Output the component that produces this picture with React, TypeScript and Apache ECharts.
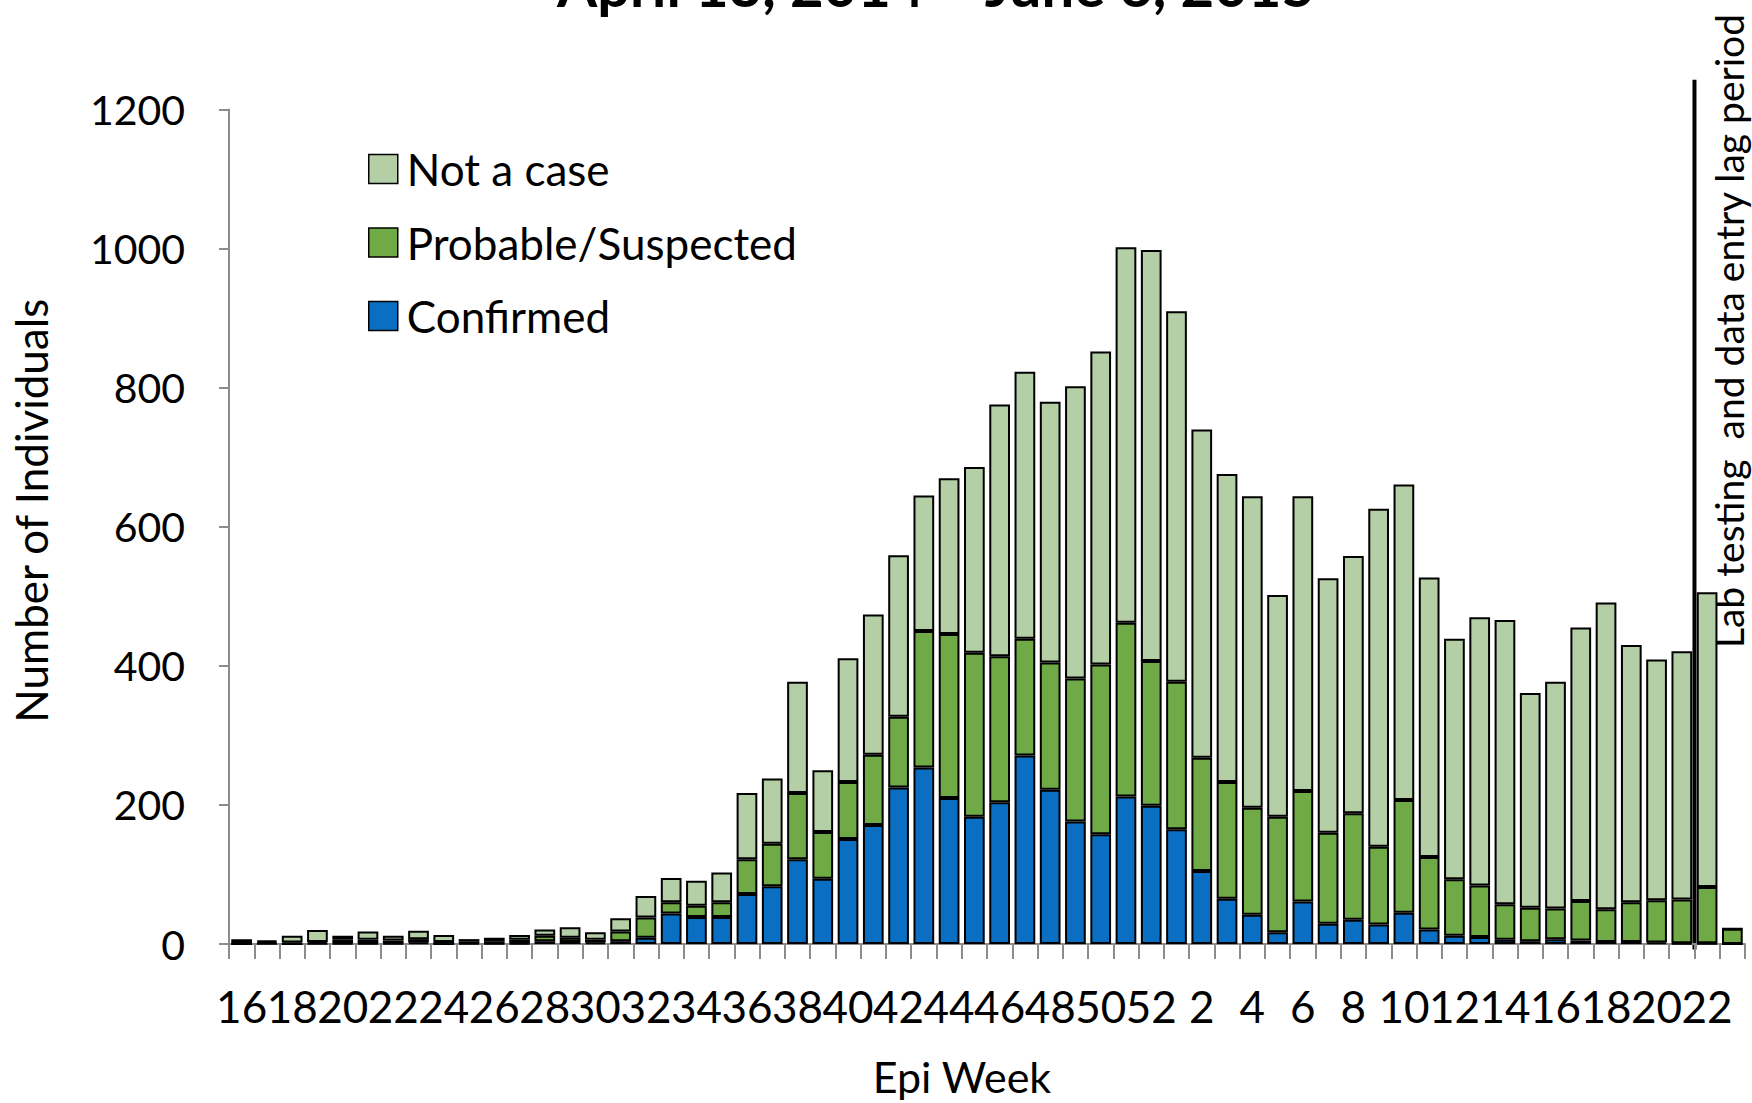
import React, { useEffect, useRef } from "react";
import * as echarts from "echarts";

// Epi weeks: 16..52 (2014) then 1..23 (2015)
const weeks: string[] = [
  "16","17","18","19","20","21","22","23","24","25","26","27","28","29","30","31","32","33","34","35",
  "36","37","38","39","40","41","42","43","44","45","46","47","48","49","50","51","52",
  "1","2","3","4","5","6","7","8","9","10","11","12","13","14","15","16","17","18","19","20","21","22","23",
];

const confirmed: number[] = [
  0, 1, 0, 1, 1, 1, 1, 2, 0, 1, 1, 1, 4, 3, 2, 4, 9, 44, 39, 39,
  72, 83, 122, 94, 151, 171, 225, 254, 210, 183, 204, 271, 222, 176, 158, 212, 199,
  165, 105, 65, 42, 17, 61, 29, 35, 28, 45, 21, 12, 10, 6, 4, 7, 5, 3, 3, 2, 1, 1, 0,
];

const probable: number[] = [
  1, 2, 2, 2, 5, 5, 4, 5, 3, 3, 3, 5, 8, 6, 4, 14, 29, 16, 16, 21,
  50, 61, 95, 67, 82, 101, 102, 196, 236, 236, 210, 168, 183, 206, 244, 250, 208,
  212, 163, 168, 154, 166, 159, 131, 153, 112, 162, 104, 81, 74, 51, 48, 44, 57, 47, 57, 61, 63, 81, 22,
];

const notCase: number[] = [
  6, 2, 10, 17, 6, 12, 7, 12, 10, 3, 5, 7, 9, 15, 11, 19, 31, 35, 36, 43,
  95, 94, 160, 89, 178, 202, 232, 195, 224, 267, 362, 384, 375, 420, 450, 540, 591,
  533, 472, 443, 448, 319, 424, 366, 370, 486, 454, 402, 346, 386, 409, 309, 326, 393, 441, 370, 346, 357, 424, 0,
];

const seriesNames = ["Confirmed", "Probable/Suspected", "Not a case"];
const seriesColors = ["#0A6FC2", "#6FAA46", "#B4CFA5"];
const legendOrder = ["Not a case", "Probable/Suspected", "Confirmed"];
const yTicks = { min: 0, max: 1200, interval: 200 };
const titleText = "April 13, 2014 \u2013 June 6, 2015";
const lagText = "Lab testing  and data entry lag period";
const lagStartIndex = 58; // first week inside the lag period (2015 week 22)

const FONT = "Lato, 'Open Sans', sans-serif";

export default function App() {
  const ref = useRef<HTMLDivElement>(null);

  useEffect(() => {
    if (!ref.current) return;
    const chart = echarts.init(ref.current, undefined, { renderer: "svg" });
    const dataSets = [confirmed, probable, notCase];

    chart.setOption({
      animation: false,
      backgroundColor: "#ffffff",
      textStyle: { fontFamily: FONT, color: "#000" },
      grid: { left: 229, right: 7, top: 109.6, bottom: 153, containLabel: false },
      legend: {
        data: legendOrder,
        orient: "vertical",
        left: 368,
        top: 147,
        padding: 0,
        itemWidth: 29,
        itemHeight: 29,
        itemGap: 29.5,
        icon: "rect",
        itemStyle: { borderColor: "#000", borderWidth: 1.5 },
        textStyle: { fontSize: 44, fontFamily: FONT, color: "#000", padding: [0, 0, 0, 4], lineHeight: 29 },
      },
      xAxis: {
        type: "category",
        data: weeks,
        name: "Epi Week",
        nameLocation: "middle",
        nameGap: 111,
        nameTextStyle: { fontSize: 43, fontFamily: FONT, color: "#000", padding: [0, 50, 0, 0] },
        axisLine: { show: true, lineStyle: { color: "#8c8c8c", width: 2 } },
        axisTick: { show: true, interval: 0, length: 15, lineStyle: { color: "#8c8c8c", width: 2 } },
        axisLabel: {
          interval: 0,
          showMinLabel: true,
          showMaxLabel: true,
          hideOverlap: false,
          formatter: (value: string, index: number) => (index % 2 === 0 ? value : ""),
          fontSize: 44,
          margin: 40,
          color: "#000",
          fontFamily: FONT,
        },
        splitLine: { show: false },
      },
      yAxis: {
        type: "value",
        min: yTicks.min,
        max: yTicks.max,
        interval: yTicks.interval,
        name: "Number of Individuals",
        nameLocation: "middle",
        nameRotate: 90,
        nameGap: 176,
        nameTextStyle: { fontSize: 44, fontFamily: FONT, color: "#000", padding: [0, 0, 0, 32] },
        axisLine: { show: true, lineStyle: { color: "#8c8c8c", width: 2 } },
        axisTick: { show: true, length: 10, lineStyle: { color: "#8c8c8c", width: 2 } },
        axisLabel: {
          fontSize: 41,
          margin: 44,
          color: "#000",
          fontFamily: FONT,
          formatter: (v: number) => String(v),
        },
        splitLine: { show: false },
      },
      series: seriesNames.map((name, i) => ({
        name,
        type: "bar",
        stack: "total",
        barCategoryGap: "18%",
        data: dataSets[i],
        itemStyle: { color: seriesColors[i], borderColor: "#000", borderWidth: 2 },
      })),
    });

    const xa = chart.convertToPixel({ xAxisIndex: 0 }, lagStartIndex - 1) as number;
    const xb = chart.convertToPixel({ xAxisIndex: 0 }, lagStartIndex) as number;
    const lineX = (xa + xb) / 2;
    const yTop = chart.convertToPixel({ yAxisIndex: 0 }, 1243) as number;
    const yBot = chart.convertToPixel({ yAxisIndex: 0 }, -8) as number;

    chart.setOption({
      graphic: [
        {
          type: "text",
          x: 936,
          y: -16,
          style: {
            text: titleText,
            fontSize: 58,
            fontWeight: "bold",
            fontFamily: FONT,
            fill: "#000",
            align: "center",
            verticalAlign: "middle",
          },
        },
        {
          type: "line",
          shape: { x1: lineX, y1: yTop, x2: lineX, y2: yBot },
          style: { stroke: "#000", lineWidth: 4 },
        },
        {
          type: "text",
          x: 1729,
          y: 331,
          rotation: Math.PI / 2,
          style: {
            text: lagText,
            fontSize: 39,
            fontFamily: FONT,
            fill: "#000",
            align: "center",
            verticalAlign: "middle",
          },
        },
      ],
    });

    return () => chart.dispose();
  }, []);

  return (
    <div
      ref={ref}
      style={{ position: "absolute", left: 0, top: 0, width: 1752, height: 1103 }}
    />
  );
}
